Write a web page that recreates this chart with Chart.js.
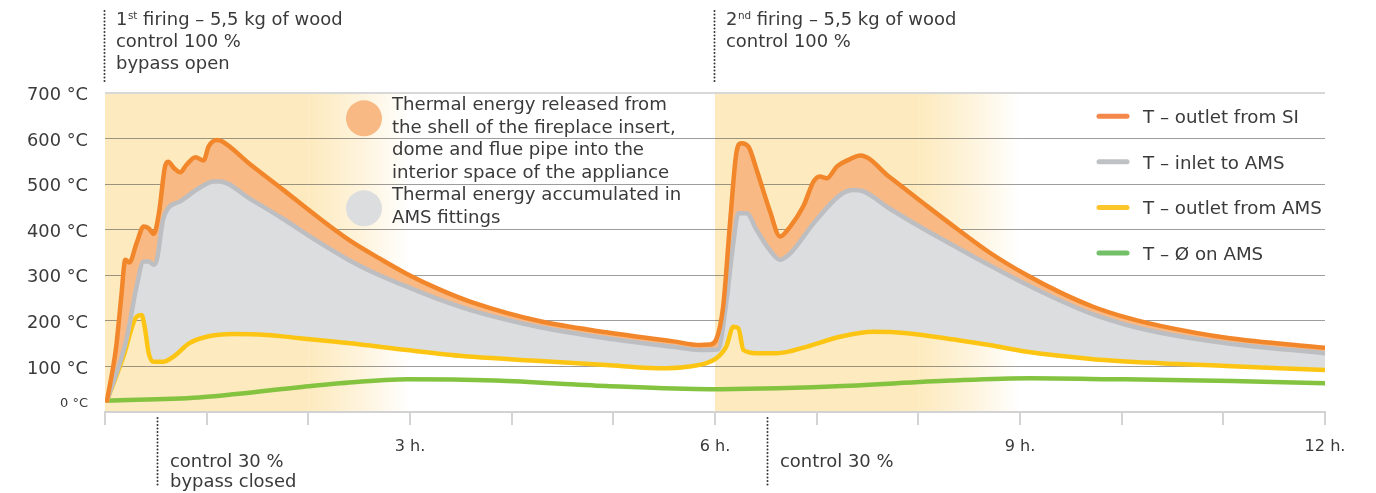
<!DOCTYPE html>
<html>
<head>
<meta charset="utf-8">
<script src="https://cdn.jsdelivr.net/npm/chart.js@4/dist/chart.umd.min.js"></script>
<style>
  html, body { margin: 0; padding: 0; background: #fff; }
  #c { display: block; }
</style>
</head>
<body>
<canvas id="c" width="1376" height="493"></canvas>
<script>
// ---------------- data (hours, °C) ----------------
const seriesNames = ['T – outlet from SI', 'T – inlet to AMS', 'T – outlet from AMS', 'T – Ø on AMS'];

const siHours = [0.02,0.11,0.16,0.2,0.24,0.31,0.38,0.43,0.48,0.53,0.59,0.62,0.68,0.74,0.8,0.89,0.97,1.02,1.1,1.15,1.43,1.75,2.08,2.41,2.7,2.97,3.3,3.62,4.28,4.93,5.59,5.85,5.95,6.01,6.08,6.15,6.21,6.26,6.33,6.41,6.54,6.64,6.74,6.87,6.97,7.03,7.1,7.2,7.33,7.43,7.72,8.05,8.38,8.7,9.07,9.4,9.72,10.05,10.38,11.03,12];
const siTemps = [25,143,253,334,328,370,407,403,391,436,538,549,535,526,542,559,552,583,597,594,543,488,430,376,337,303,268,240,199,175,155,147,148,158,231,421,568,590,582,531,441,385,407,452,506,517,513,539,555,563,515,458,402,350,300,262,231,207,189,163,141];

const inletHours = [0.02,0.21,0.31,0.38,0.43,0.48,0.51,0.57,0.62,0.74,0.93,1.07,1.13,1.43,1.75,2.08,2.41,2.7,2.97,3.3,3.62,4.28,4.93,5.59,5.85,6.03,6.11,6.18,6.23,6.31,6.41,6.54,6.64,6.74,6.97,7.23,7.36,7.46,7.72,8.05,8.38,8.7,9.07,9.4,9.72,10.05,10.38,11.03,12];
const inletTemps = [25,158,275,330,330,323,334,421,447,462,492,506,506,467,424,376,332,300,275,246,222,186,162,143,136,137,239,370,436,436,399,355,334,348,414,476,487,484,446,402,361,322,279,244,214,191,174,151,129];

const outletHours = [0.02,0.18,0.31,0.36,0.39,0.43,0.48,0.57,0.67,0.83,1.0,1.26,1.59,1.92,2.41,2.97,3.62,4.28,4.93,5.43,5.75,6.0,6.11,6.18,6.23,6.28,6.41,6.61,6.9,7.23,7.56,7.89,8.38,8.7,9.07,9.72,10.38,11.03,12];
const outletTemps = [25,121,209,213,187,129,110,110,121,151,165,171,169,162,151,136,121,112,103,96,100,116,143,187,184,136,129,129,143,165,176,173,158,147,132,116,107,101,92];

const avgHours = [0.02,0.92,1.89,2.31,2.98,3.84,4.93,5.95,7.14,8.32,9.1,9.9,11.09,12];
const avgTemps = [25,32,54,63,72,69,57,50,56,69,74,72,68,63];

const yTicks = [0,100,200,300,400,500,600,700];
const xLabelledHours = [3,6,9,12];
const shadeBands = [[0,2,3],[6,8,9]];          // firing start, full tint until, faded by (h)
const firingHours = [0,6];
const firingOrdinals = ['1','2'];
const firingSuffix = ['st','nd'];
const firingTitle = 'firing – 5,5 kg of wood';
const firingLines = [['control 100 %','bypass open'],['control 100 %']];
const controlHours = [0.51,6.51];
const controlLines = [['control 30 %','bypass closed'],['control 30 %']];
const areaLegend = [
  ['Thermal energy released from','the shell of the fireplace insert,','dome and flue pipe into the','interior space of the appliance'],
  ['Thermal energy accumulated in','AMS fittings']
];

// ---------------- style ----------------
const FONT = '"DejaVu Sans", sans-serif';
const TEXT = '#3a3a3a';
const C_SI = '#f2862b', C_SI_FILL = '#f8b985';
const C_IN = '#bdbec2', C_IN_FILL = '#dcdddf';
const C_OUT = '#fcc514', C_AVG = '#84c340';
const SHADE = [253,234,190];

const mctx = document.createElement('canvas').getContext('2d');
function fit(text, width) { mctx.font = '100px ' + FONT; return 100 * width / mctx.measureText(text).width; }
const yTickSize = fit('700 °C', 61);
const zeroSize = fit('0 °C', 28);
const xTickSize = fit('12 h.', 41);
const noteSize = fit('control 100 %', 125);
const midSize = fit('Thermal energy released from', 275);
const legSize = fit('T – outlet from AMS', 179);

const xy = (hs, ts) => hs.map((h, i) => ({ x: h, y: ts[i] }));
const lineBase = { pointRadius: 0, borderWidth: 4.5, cubicInterpolationMode: 'monotone', borderJoinStyle: 'round', borderCapStyle: 'round' };

const decor = {
  id: 'decor',
  beforeDraw(chart) {
    const { ctx, chartArea: a, scales: { x } } = chart;
    ctx.save();
    ctx.fillStyle = '#fff';
    ctx.fillRect(0, 0, chart.width, chart.height);
    shadeBands.forEach(([s, full, end]) => {
      const x0 = x.getPixelForValue(s), x1 = x.getPixelForValue(full), x2 = x.getPixelForValue(end);
      ctx.fillStyle = `rgb(${SHADE})`;
      ctx.fillRect(x0, a.top, x1 - x0, a.bottom - a.top);
      const g = ctx.createLinearGradient(x1, 0, x2, 0);
      g.addColorStop(0, `rgba(${SHADE},1)`);
      g.addColorStop(0.5, `rgba(${SHADE},0.55)`);
      g.addColorStop(1, `rgba(${SHADE},0)`);
      ctx.fillStyle = g;
      ctx.fillRect(x1, a.top, x2 - x1, a.bottom - a.top);
    });
    ctx.restore();
  },
  afterDraw(chart) {
    const { ctx, chartArea: a, scales: { x, y } } = chart;
    ctx.save();
    ctx.fillStyle = TEXT;
    ctx.textBaseline = 'alphabetic';
    ctx.textAlign = 'left';

    const dotted = (px, y0, y1) => {
      ctx.save();
      ctx.strokeStyle = '#333';
      ctx.lineWidth = 2;
      ctx.lineCap = 'round';
      ctx.setLineDash([0.1, 3.4]);
      ctx.beginPath(); ctx.moveTo(px, y0); ctx.lineTo(px, y1); ctx.stroke();
      ctx.restore();
    };

    // 0 °C label
    ctx.font = `${zeroSize}px ${FONT}`;
    ctx.textAlign = 'right';
    ctx.fillText('0 °C', a.left - 17, y.getPixelForValue(0) - 5);
    ctx.textAlign = 'left';

    // firing notes (top)
    const main = `${noteSize}px ${FONT}`;
    firingHours.forEach((h, i) => {
      const px = Math.round(x.getPixelForValue(h)) - 0.5;
      dotted(px, 11, 82);
      const tx = px + 11.5;
      ctx.font = main;
      ctx.fillText(firingOrdinals[i], tx, 25);
      let cx = tx + ctx.measureText(firingOrdinals[i]).width + 0.5;
      ctx.font = `${noteSize * 0.58}px ${FONT}`;
      ctx.fillText(firingSuffix[i], cx, 19);
      cx += ctx.measureText(firingSuffix[i]).width;
      ctx.font = main;
      ctx.fillText(' ' + firingTitle, cx, 25);
      firingLines[i].forEach((t, k) => ctx.fillText(t, tx, 47 + k * 21.6));
    });

    // control notes (bottom)
    controlHours.forEach((h, i) => {
      const px = Math.round(x.getPixelForValue(h)) + 0.5;
      dotted(px, 418, 488);
      ctx.font = main;
      controlLines[i].forEach((t, k) => ctx.fillText(t, px + 12.5, 466.5 + k * 20.5));
    });

    // area legend (middle)
    const circ = [[C_SI_FILL, 118.3], [C_IN_FILL, 208.3]];
    const midBase = [[110, 132.7, 155.3, 177.7], [200.2, 222.7]];
    areaLegend.forEach((lines, i) => {
      ctx.fillStyle = circ[i][0];
      ctx.beginPath(); ctx.arc(364, circ[i][1], 18, 0, Math.PI * 2); ctx.fill();
      ctx.fillStyle = TEXT;
      ctx.font = `${midSize}px ${FONT}`;
      lines.forEach((t, k) => ctx.fillText(t, 392, midBase[i][k]));
    });

    // series legend (right)
    const legCols = ['#f3884a', '#c0c1c5', '#fcc52a', '#72bf68'];
    const legVals = [650, 550, 450, 350];
    seriesNames.forEach((n, i) => {
      const cy = y.getPixelForValue(legVals[i]) + 0.5;
      ctx.strokeStyle = legCols[i];
      ctx.lineWidth = 5;
      ctx.lineCap = 'round';
      ctx.beginPath(); ctx.moveTo(1099, cy); ctx.lineTo(1127, cy); ctx.stroke();
      ctx.fillStyle = TEXT;
      ctx.font = `${legSize}px ${FONT}`;
      ctx.fillText(n, 1143, cy + 6.8);
    });
    ctx.restore();
  }
};

new Chart(document.getElementById('c'), {
  type: 'line',
  data: {
    datasets: [
      { ...lineBase, label: seriesNames[0], data: xy(siHours, siTemps), borderColor: C_SI, backgroundColor: C_SI_FILL, fill: '+1' },
      { ...lineBase, label: seriesNames[1], data: xy(inletHours, inletTemps), borderColor: C_IN, backgroundColor: C_IN_FILL, fill: '+1' },
      { ...lineBase, label: seriesNames[2], data: xy(outletHours, outletTemps), borderColor: C_OUT, fill: false },
      { ...lineBase, label: seriesNames[3], data: xy(avgHours, avgTemps), borderColor: C_AVG, fill: false }
    ]
  },
  options: {
    responsive: false,
    animation: false,
    events: [],
    layout: { padding: { top: 93, right: 51, bottom: 0, left: 0 } },
    plugins: {
      legend: { display: false },
      tooltip: { enabled: false },
      filler: { drawTime: 'beforeDatasetsDraw', propagate: false }
    },
    scales: {
      x: {
        type: 'linear', min: 0, max: 12,
        afterFit: s => { s.height = 81; },
        border: { display: true, color: '#d2d2d2', width: 2 },
        grid: { drawOnChartArea: false, drawTicks: true, tickLength: 13, color: '#d4d4d4', lineWidth: 2 },
        ticks: {
          stepSize: 1, autoSkip: false, maxRotation: 0, padding: 12,
          color: TEXT, font: { family: FONT, size: xTickSize },
          callback: v => xLabelledHours.includes(v) ? v + ' h.' : ''
        }
      },
      y: {
        type: 'linear', min: 0, max: 700, z: 1,
        afterFit: s => { s.width = 105; },
        afterBuildTicks: s => { s.ticks = yTicks.map(v => ({ value: v })); },
        border: { display: false },
        grid: {
          drawTicks: false,
          color: c => c.tick.value === 0 ? 'rgba(0,0,0,0)' : (c.tick.value === 700 ? '#d8d8d8' : 'rgba(60,60,60,0.5)'),
          lineWidth: c => c.tick.value === 700 ? 2 : 1
        },
        ticks: {
          padding: 17, labelOffset: 2.5,
          color: TEXT, font: { family: FONT, size: yTickSize },
          callback: v => v === 0 ? '' : v + ' °C'
        }
      }
    }
  },
  plugins: [decor]
});
</script>
</body>
</html>
